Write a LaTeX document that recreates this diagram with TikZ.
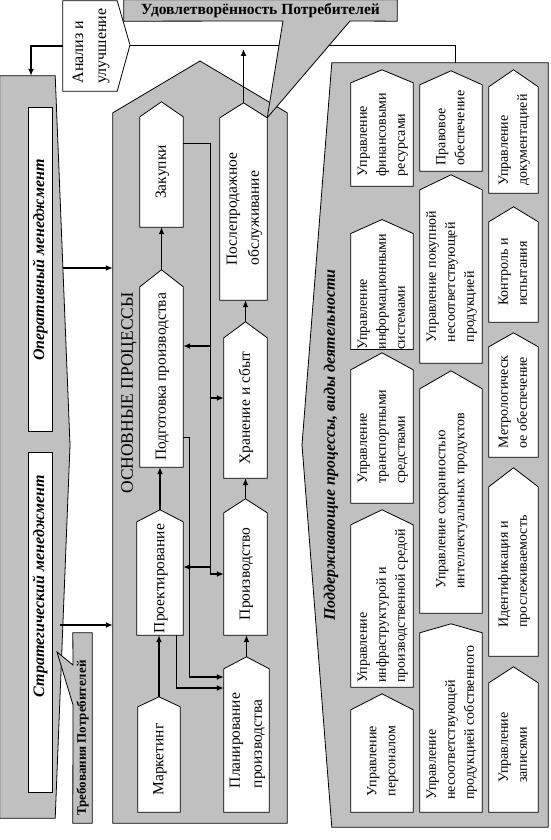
\documentclass[tikz,border=0pt]{standalone}
\usepackage{fontspec}
\setmainfont{Liberation Serif}
\usepackage{graphicx}
\usepackage{tikz}
\usetikzlibrary{arrows.meta,calc}
\definecolor{silver}{HTML}{C0C0C0}
\pgfdeclarelayer{bg}
\pgfsetlayers{bg,main}
\newcommand\fProc{\fontsize{15.5}{22}\selectfont}
\newcommand\fSupp{\fontsize{14}{19}\selectfont}
\newcommand\fTitle{\fontsize{17.5}{20}\selectfont}
\newcommand\fSuppTitle{\fontsize{16}{20}\selectfont\bfseries\itshape}
\newcommand\fMgmt{\fontsize{16}{20}\selectfont\bfseries\itshape}
\newcommand\fBanner{\fontsize{15.5}{18}\selectfont\bfseries}
\newcommand\fReq{\fontsize{13}{16}\selectfont\bfseries}
\newcommand\fAnn{\fontsize{16}{23}\selectfont}
\newcommand\vtext[1]{\rotatebox{90}{\begin{tabular}{@{}l@{}}#1\end{tabular}}}
\tikzset{
  frame/.style={inner sep=0pt},
  frameline/.style={draw=black,fill=silver,line width=0.8pt},
  houseline/.style={draw=black,fill=white,line width=0.8pt},
  procbox/.style={inner sep=0pt,font=\fProc},
  suppbox/.style={inner sep=0pt,font=\fSupp},
  mgmtbox/.style={draw,fill=white,line width=0.8pt,inner sep=0pt,font=\fMgmt},
  arr/.style={-{Latex[length=7pt,width=6pt]},line width=1.6pt},
  wire/.style={line width=0.8pt}
}

\begin{document}
\begin{tikzpicture}[x=1pt,y=-1pt]
  \useasboundingbox (0,0) rectangle (550,840);

  % areas
  \node[frame,minimum width=55,minimum height=742] (mgmt) at (27.5,447) {};
  \node[frame,minimum width=174,minimum height=710] (main) at (200,468) {};
  \node[frame,minimum width=216,minimum height=764] (supp) at (440,445) {};
  \node[frame,minimum width=54,minimum height=90,font=\fAnn] (an) at (90,46) {\vtext{Анализ и\\улучшение}};
  \node[rotate=90,font=\fTitle] (mainlbl) at (129,393) {ОСНОВНЫЕ ПРОЦЕССЫ};
  \node[rotate=90,font=\fSuppTitle] (supplbl) at (331,445) {Поддерживающие процессы, виды деятельности};

  % management
  \node[mgmtbox,minimum width=24,minimum height=324] (oper) at (40,269) {\rotatebox{90}{\hspace*{18pt}Оперативный менеджмент}};
  \node[mgmtbox,minimum width=24,minimum height=340] (strat) at (40,622) {\rotatebox{90}{\hspace*{72pt}Стратегический менеджмент}};

  % callouts
  \node[frame,minimum width=273,minimum height=21,font=\fBanner] (sat) at (260.5,10.5) {Удовлетворённость Потребителей};
  \node[frame,minimum width=19,minimum height=190,font=\fReq] (req) at (82.5,728) {\rotatebox{90}{Требования Потребителей\hspace*{20pt}}};

  % main processes
  \node[procbox,minimum width=42,minimum height=105] (mkt) at (159,759.5) {\vtext{Маркетинг}};
  \node[procbox,minimum width=46,minimum height=113] (proj) at (160,578.5) {\vtext{Проектирование}};
  \node[procbox,minimum width=43,minimum height=180] (prep) at (161.5,377) {\vtext{Подготовка производства}};
  \node[procbox,minimum width=43,minimum height=110] (zak) at (161.5,172) {\vtext{Закупки}};
  \node[procbox,minimum width=45,minimum height=143] (plan) at (246.5,740.5) {\vtext{Планирование\\производства}};
  \node[procbox,minimum width=43,minimum height=122] (prod) at (245.5,574) {\vtext{Производство}};
  \node[procbox,minimum width=43,minimum height=140] (stor) at (245.5,408) {\vtext{Хранение и сбыт}};
  \node[procbox,minimum width=47,minimum height=182] (serv) at (243.5,209) {\vtext{Послепродажное\\обслуживание}};

  % supporting processes
  \node[suppbox,minimum width=62,minimum height=103] (fin) at (382,134.5) {\vtext{Управление\\финансовыми\\ресурсами}};
  \node[suppbox,minimum width=62,minimum height=109] (inf) at (382,291.5) {\vtext{Управление\\информационными\\системами}};
  \node[suppbox,minimum width=62,minimum height=133] (tra) at (382,436.5) {\vtext{Управление\\транспортными\\средствами}};
  \node[suppbox,minimum width=62,minimum height=162] (infr) at (382,606) {\vtext{Управление\\инфраструктурой и\\производственной средой}};
  \node[suppbox,minimum width=62,minimum height=102] (pers) at (382,761) {\vtext{Управление\\персоналом}};
  \node[suppbox,minimum width=62,minimum height=86] (law) at (451,128) {\vtext{Правовое\\обеспечение}};
  \node[suppbox,minimum width=62,minimum height=173] (buy) at (451,276.5) {\vtext{Управление покупной\\несоответствующей\\продукцией}};
  \node[suppbox,minimum width=62,minimum height=224] (ip) at (451,501) {\vtext{Управление сохранностью\\интеллектуальных продуктов}};
  \node[suppbox,minimum width=62,minimum height=179] (nc) at (451,722.5) {\vtext{Управление\\несоответствующей\\продукцией собственного}};
  \node[suppbox,minimum width=49,minimum height=106] (doc) at (513.5,140) {\vtext{Управление\\документацией}};
  \node[suppbox,minimum width=49,minimum height=100] (ctl) at (513.5,272) {\vtext{Контроль и\\испытания}};
  \node[suppbox,minimum width=49,minimum height=110] (met) at (513.5,402) {\vtext{Метрологическ\\ое обеспечение}};
  \node[suppbox,minimum width=49,minimum height=169] (id) at (513.5,571.5) {\vtext{Идентификация и\\прослеживаемость}};
  \node[suppbox,minimum width=49,minimum height=129] (rec) at (513.5,747.5) {\vtext{Управление\\записями}};

  \begin{pgfonlayer}{bg}
    \draw[frameline] (mgmt.north west) -- (mgmt.north east) -- (70,445) -- (mgmt.south east) -- (mgmt.south west) -- cycle;
    \draw[frameline] (main.south west) -- (main.north west) -- (200,61) -- (main.north east) -- (main.south east) -- cycle;
    \draw[frameline] (supp.north west) -- (supp.north east) -- (supp.south east) -- (supp.south west) -- (302,445) -- cycle;
    \coordinate (an-tip) at (130,45);
    \draw[houseline] (an.north west) -- (an.north east) -- (an-tip) -- (an.south east) -- (an.south west) -- cycle;
    \draw[wire] ($(supp.north)+(15,0)$) |- (an-tip);
    \draw[frameline] (sat.north west) -- (sat.north east) -- (sat.south east) -- (350,21) -- (serv.north east) -- (283,21) -- (sat.south west) -- cycle;
    \draw[frameline] (req.north west) -- (req.north east) -- (req.south east) -- (req.south west) -- (73,705) -- (57,652) -- (73,665) -- cycle;
    \foreach \n/\r in {mkt/10,proj/12,prep/17,zak/15,plan/12,prod/14,stor/16,serv/15,
                       fin/13,inf/14,tra/17,infr/15,pers/16,law/14,buy/15,ip/18,nc/9,
                       doc/17,ctl/15,met/14,id/19,rec/16} {
      \draw[houseline] (\n.south west) -- (\n.north west) -- ($(\n.north)+(0,-\r)$) -- (\n.north east) -- (\n.south east) -- cycle;
      \coordinate (\n-top) at ($(\n.north)+(0,-\r)$);
    }
  \end{pgfonlayer}

  % connectors
  \draw[arr] (an.west) -| ($(mgmt.north)+(3.5,0)$);
  \draw[arr,shorten >=4pt] (serv-top) -- (serv-top |- an-tip);
  \coordinate (operout) at (63,268);
  \coordinate (stratout) at (60,625);
  \draw[arr] (operout) -- (operout -| main.west);
  \draw[arr] (stratout) -- (stratout -| main.west);

  \draw[arr] (mkt-top) -- (mkt-top |- proj.south);
  \draw[arr] (proj-top) -- (proj-top |- prep.south);
  \draw[arr] (prep-top) -- (prep-top |- zak.south);
  \draw[arr] (plan-top) -- (plan-top |- prod.south);
  \draw[arr] (prod-top) -- (prod-top |- stor.south);
  \draw[arr] (stor-top) -- (stor-top |- serv.south);

  \coordinate (zbus) at (210,143);
  \coordinate (pbus) at (189,437);
  \coordinate (dbus) at (176,688);
  \draw[wire] (zak.east |- zbus) -- (zbus) -- (zbus |- prod.west);
  \draw[arr] (zbus |- 0,346) -- (prep.east |- 0,346);
  \draw[arr] (zbus |- 0,398) -- (stor.west |- 0,398);
  \draw[arr] (zbus |- 0,567) -- (proj.east |- 0,567);
  \draw[arr] (zbus |- prod.west) -- (prod.west);
  \draw[wire] (prep.east |- pbus) -- (pbus) -- (pbus |- 0,677);
  \draw[arr] (pbus |- 0,677) -- (plan.west |- 0,677);
  \draw[wire] (proj.south -| dbus) -- (dbus);
  \draw[arr] (dbus) -- (plan.west |- dbus);
\end{tikzpicture}
\end{document}
